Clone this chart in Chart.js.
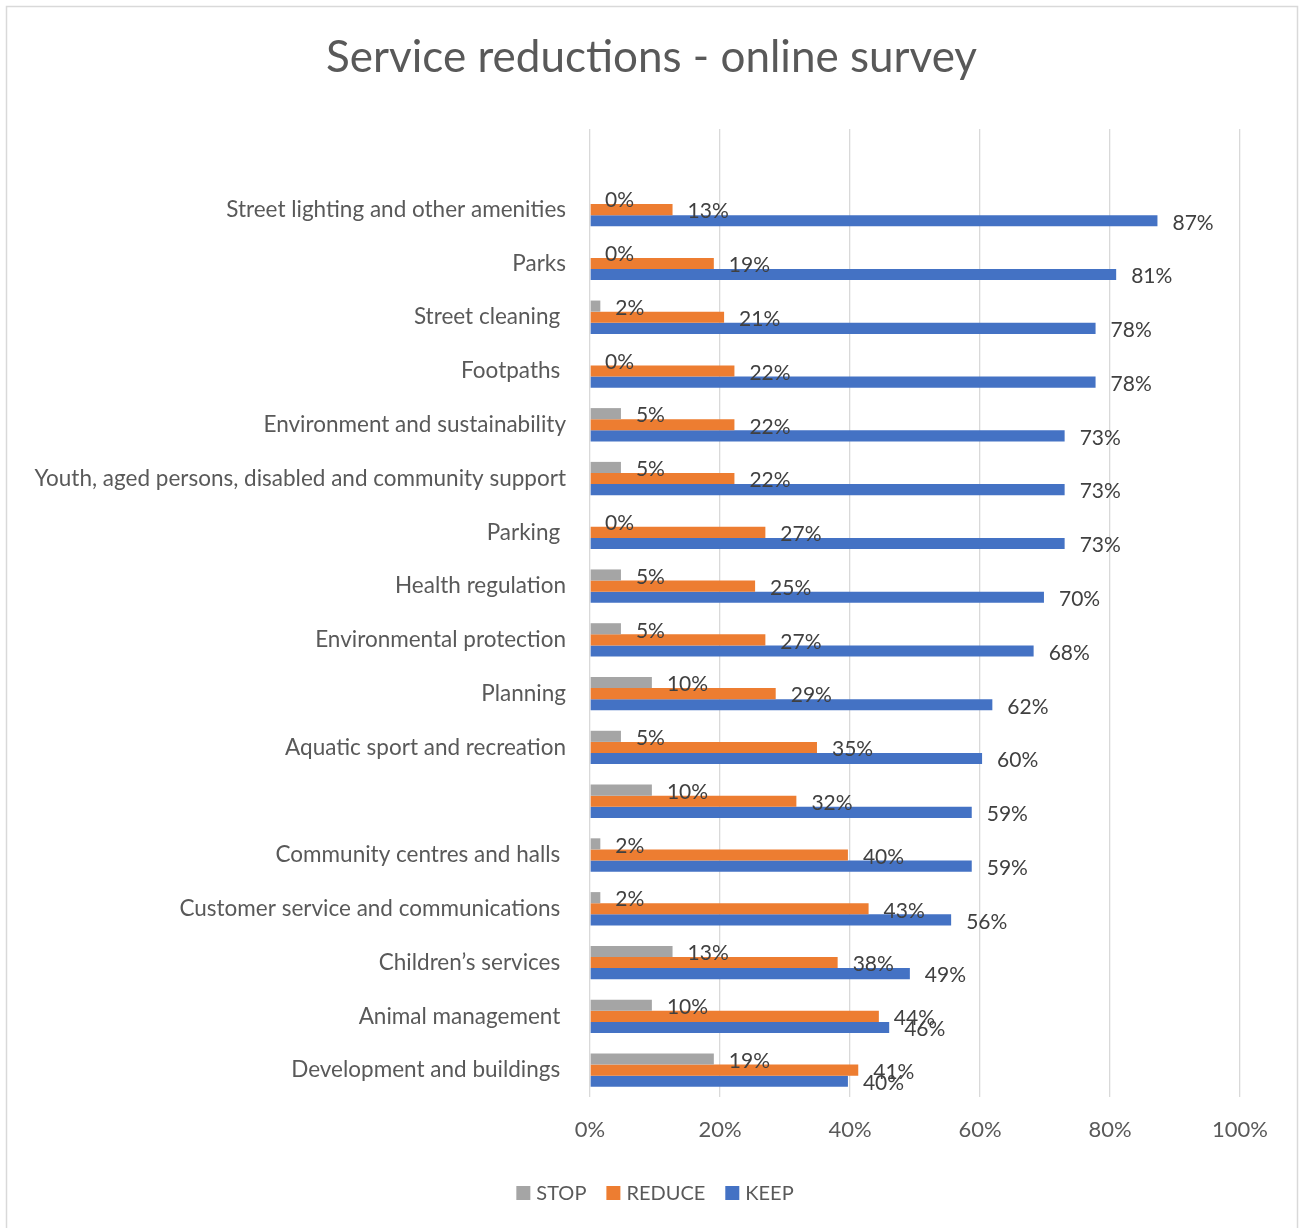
<!DOCTYPE html>
<html><head><meta charset="utf-8">
<style>html,body{margin:0;padding:0;background:#fff;}#wrap{width:1301px;height:1228px;}</style>
<script src="https://cdn.jsdelivr.net/npm/chart.js@4/dist/chart.umd.min.js"></script>
</head><body><div id="wrap"><canvas id="c" width="1301" height="1228"></canvas></div>
<script>
const chartTitle = 'Service reductions - online survey';
const categories = ['', 'Street lighting and other amenities', 'Parks', 'Street cleaning ', 'Footpaths ', 'Environment and sustainability', 'Youth, aged persons, disabled and community support', 'Parking ', 'Health regulation', 'Environmental protection', 'Planning', 'Aquatic sport and recreation', '', 'Community centres and halls ', 'Customer service and communications ', 'Children\u2019s services ', 'Animal management ', 'Development and buildings '];
const seriesNames = ['STOP', 'REDUCE', 'KEEP'];
const stopValues = [null, 0, 0, 1.59, 0, 4.76, 4.76, 0, 4.76, 4.76, 9.52, 4.76, 9.52, 1.59, 1.59, 12.7, 9.52, 19.05];
const reduceValues = [null, 12.7, 19.05, 20.63, 22.22, 22.22, 22.22, 26.98, 25.4, 26.98, 28.57, 34.92, 31.75, 39.68, 42.86, 38.1, 44.44, 41.27];
const keepValues = [null, 87.3, 80.95, 77.78, 77.78, 73.02, 73.02, 73.02, 69.84, 68.25, 61.9, 60.32, 58.73, 58.73, 55.56, 49.21, 46.03, 39.68];
const xTickValues = [0, 20, 40, 60, 80, 100];
const seriesColors = ['#A5A5A5', '#ED7D31', '#4472C4'];

const FONT = 'Lato';
const allSeries = [stopValues, reduceValues, keepValues];

const dataLabels = {
  id: 'dataLabels',
  afterDatasetsDraw(chart) {
    const c = chart.ctx;
    c.save();
    c.font = '21px ' + FONT;
    c.fillStyle = '#404040';
    c.textAlign = 'left';
    c.textBaseline = 'middle';
    chart.data.datasets.forEach((ds, i) => {
      chart.getDatasetMeta(i).data.forEach((el, j) => {
        const v = ds.data[j];
        if (v == null) return;
        c.fillText(Math.round(v) + '%', el.x + 15, el.y + 2);
      });
    });
    c.restore();
  }
};

const deco = {
  id: 'deco',
  beforeDraw(chart) {
    const c = chart.ctx;
    c.save();
    c.fillStyle = '#fff';
    c.fillRect(0, 0, chart.width, chart.height);
    c.strokeStyle = '#D9D9D9';
    c.lineWidth = 1.5;
    c.strokeRect(6.5, 6.5, chart.width - 10, chart.height + 10);
    c.restore();
  },
  afterDraw(chart) {
    const c = chart.ctx;
    c.save();
    c.fillStyle = '#595959';
    c.font = '44px ' + FONT;
    c.textAlign = 'center';
    c.textBaseline = 'middle';
    c.fillText(chartTitle, chart.width / 2 + 1, 58);
    // legend
    c.font = '20px ' + FONT;
    c.textAlign = 'left';
    const box = 14, gapText = 6, gapItem = 20;
    const widths = seriesNames.map(n => box + gapText + c.measureText(n).width);
    const total = widths.reduce((a, b) => a + b, 0) + gapItem * (seriesNames.length - 1);
    let x = 655 - total / 2;
    const yc = 1193;
    seriesNames.forEach((n, i) => {
      c.fillStyle = seriesColors[i];
      c.fillRect(x, yc - box / 2, box, box);
      c.fillStyle = '#595959';
      c.fillText(n, x + box + gapText, yc + 1);
      x += widths[i] + gapItem;
    });
    c.restore();
  }
};

new Chart(document.getElementById('c').getContext('2d'), {
  type: 'bar',
  data: {
    labels: categories,
    datasets: seriesNames.map((n, i) => ({
      label: n, data: allSeries[i], backgroundColor: seriesColors[i], borderWidth: 0
    }))
  },
  options: {
    indexAxis: 'y',
    responsive: false,
    animation: false,
    datasets: { bar: { categoryPercentage: 0.62, barPercentage: 1 } },
    layout: { padding: { left: 0, top: 129, right: 61, bottom: 60 } },
    plugins: { legend: { display: false }, title: { display: false }, tooltip: { enabled: false } },
    scales: {
      x: {
        min: 0, max: 100,
        afterBuildTicks: s => { s.ticks = xTickValues.map(v => ({ value: v })); },
        grid: { color: '#D9D9D9', drawTicks: false, lineWidth: 1.3 },
        border: { display: false },
        ticks: { padding: 20, color: '#595959', font: { family: FONT, size: 22 }, callback: v => v + '%' },
        afterFit: s => { s.height = 71; }
      },
      y: {
        grid: { display: false, drawTicks: false },
        border: { display: false },
        ticks: { autoSkip: false, padding: 24, color: '#595959', font: { family: FONT, size: 22.5 } },
        afterFit: s => { s.width = 590; }
      }
    }
  },
  plugins: [deco, dataLabels]
});
</script></body></html>
